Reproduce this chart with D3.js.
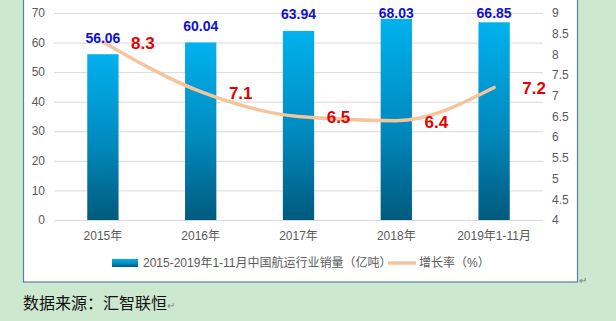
<!DOCTYPE html>
<html lang="zh">
<head>
<meta charset="UTF-8">
<title>航运行业销量</title>
<script src="https://d3js.org/d3.v7.min.js"></script>
<style>
  body { margin: 0; background: #cce8cf; }
  svg { display: block; }
  text { font-family: "Liberation Sans", "Noto Sans CJK SC", sans-serif; }
</style>
</head>
<body>
<svg id="chart" width="616" height="321"></svg>
<script>
// data
const years = ["2015年", "2016年", "2017年", "2018年", "2019年1-11月"];
const volume = [56.06, 60.04, 63.94, 68.03, 66.85];
const growth = [8.3, 7.1, 6.5, 6.4, 7.2];
const leftTicks = [0, 10, 20, 30, 40, 50, 60, 70];
const rightTicks = [4, 4.5, 5, 5.5, 6, 6.5, 7, 7.5, 8, 8.5, 9];
const barName = "2015-2019年1-11月中国航运行业销量（亿吨）";
const lineName = "增长率（%）";
const source = "数据来源：汇智联恒";

const svg = d3.select("#chart");

// gradient for bars
const defs = svg.append("defs");
const grad = defs.append("linearGradient")
    .attr("id", "barGrad").attr("x1", 0).attr("y1", 0).attr("x2", 0).attr("y2", 1);
grad.append("stop").attr("offset", "0%").attr("stop-color", "#00b2ee");
grad.append("stop").attr("offset", "55%").attr("stop-color", "#0089bd");
grad.append("stop").attr("offset", "100%").attr("stop-color", "#005a7e");

// chart box
svg.append("rect")
    .attr("x", 23.5).attr("y", -5)
    .attr("width", 554).attr("height", 287)
    .attr("fill", "#fff")
    .attr("stroke", "#5a7fa6").attr("stroke-width", 1.2);

const x = d3.scaleBand().domain(years).range([54, 543])
    .paddingInner(0.68).paddingOuter(0.34);
const yL = d3.scaleLinear().domain([0, 70]).range([220, 13]);
const yR = d3.scaleLinear().domain([4, 9]).range([220, 13]);

// gridlines
svg.append("g").selectAll("line").data(leftTicks).join("line")
    .attr("x1", 54).attr("x2", 543)
    .attr("y1", d => yL(d) + 0.5).attr("y2", d => yL(d) + 0.5)
    .attr("stroke", "#d9d9d9").attr("stroke-width", 1);

// left axis labels
svg.append("g").selectAll("text").data(leftTicks).join("text")
    .attr("x", 45).attr("y", d => yL(d))
    .attr("dy", "0.35em").attr("text-anchor", "end")
    .attr("font-size", 12).attr("fill", "#595959")
    .text(d => d);

// right axis labels
svg.append("g").selectAll("text").data(rightTicks).join("text")
    .attr("x", 552).attr("y", d => yR(d))
    .attr("dy", "0.35em").attr("text-anchor", "start")
    .attr("font-size", 12).attr("fill", "#595959")
    .text(d => d);

// bars
svg.append("g").selectAll("rect").data(volume).join("rect")
    .attr("x", (d, i) => x(years[i]))
    .attr("y", d => yL(d))
    .attr("width", x.bandwidth())
    .attr("height", d => yL(0) - yL(d))
    .attr("fill", "url(#barGrad)");

// x labels
svg.append("g").selectAll("text").data(years).join("text")
    .attr("x", d => x(d) + x.bandwidth() / 2)
    .attr("y", 240)
    .attr("text-anchor", "middle")
    .attr("font-size", 12).attr("fill", "#595959")
    .text(d => d);

// growth line
const cx = i => x(years[i]) + x.bandwidth() / 2;
const line = d3.line()
    .x((d, i) => cx(i))
    .y(d => yR(d))
    .curve(d3.curveMonotoneX);
svg.append("path")
    .datum(growth)
    .attr("d", line)
    .attr("fill", "none")
    .attr("stroke", "#f6c49b")
    .attr("stroke-width", 3.5)
    .attr("stroke-linecap", "round");

// bar value labels (kept inside the plot top like Excel does)
svg.append("g").selectAll("text").data(volume).join("text")
    .attr("x", (d, i) => cx(i))
    .attr("y", d => Math.max(yL(d) - 16.5, 13.5))
    .attr("dy", "0.35em")
    .attr("text-anchor", "middle")
    .attr("font-size", 14).attr("font-weight", "bold")
    .attr("fill", "#1010d0")
    .text(d => d.toFixed(2));

// growth labels
svg.append("g").selectAll("text").data(growth).join("text")
    .attr("x", (d, i) => cx(i) + 40)
    .attr("y", d => yR(d) + 1)
    .attr("dy", "0.35em")
    .attr("text-anchor", "middle")
    .attr("font-size", 17).attr("font-weight", "bold")
    .attr("fill", "#e60000")
    .text(d => d.toFixed(1));

// legend
const lg = svg.append("g");
lg.append("rect").attr("x", 112).attr("y", 259).attr("width", 26).attr("height", 8)
    .attr("fill", "url(#barGrad)");
lg.append("text").attr("x", 143).attr("y", 267)
    .attr("font-size", 12).attr("fill", "#595959").text(barName);
lg.append("line").attr("x1", 388).attr("x2", 416).attr("y1", 263).attr("y2", 263)
    .attr("stroke", "#f6c49b").attr("stroke-width", 3.5);
lg.append("text").attr("x", 419).attr("y", 267)
    .attr("font-size", 12).attr("fill", "#595959").text(lineName);

// return marks
svg.append("text").attr("x", 579).attr("y", 284)
    .attr("font-size", 10).attr("fill", "#7a7a7a").text("↵");

// source note
const src = svg.append("text").attr("x", 23).attr("y", 309)
    .attr("font-size", 16).attr("fill", "#111")
    .style("font-family", "'Noto Sans CJK SC', sans-serif");
src.append("tspan").text(source);
src.append("tspan").attr("font-size", 10).attr("fill", "#8a8a8a").text("↵");
</script>
</body>
</html>
